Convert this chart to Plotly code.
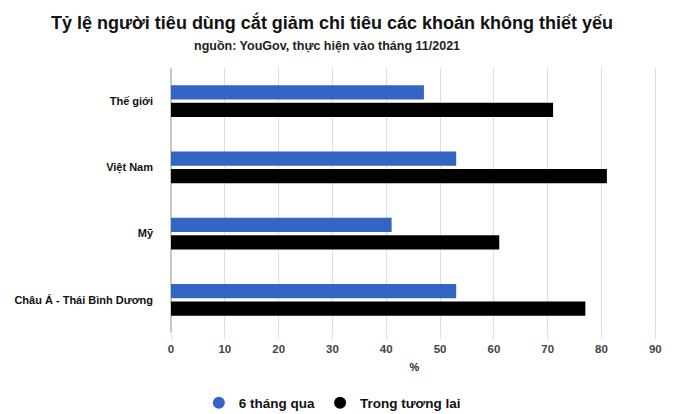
import plotly.graph_objects as go

categories = ["Thế giới", "Việt Nam", "Mỹ", "Châu Á - Thái Bình Dương"]
past_6_months = [47, 53, 41, 53]
future = [71, 81, 61, 77]
series_names = ["6 tháng qua", "Trong tương lai"]
colors = ["#3565c4", "#000000"]
x_ticks = [0, 10, 20, 30, 40, 50, 60, 70, 80, 90]

W, H = 674, 414
ML, MR, MT, MB = 171, 14, 68, 81
PW, PH = W - ML - MR, H - MT - MB

fig = go.Figure()
for name, vals, col in zip(series_names, [past_6_months, future], colors):
    fig.add_trace(go.Bar(y=categories, x=vals, orientation="h", name=name,
                         marker=dict(color=col, line=dict(width=0)), showlegend=False))
    fig.add_trace(go.Scatter(x=[None], y=[None], mode="markers", name=name,
                             marker=dict(color=col, size=12, symbol="circle")))

fig.update_layout(
    width=W, height=H,
    margin=dict(l=ML, r=MR, t=MT, b=MB),
    paper_bgcolor="white", plot_bgcolor="white",
    font=dict(family="Liberation Sans, Arial, sans-serif", color="#222"),
    title=dict(
        text="<b>Tỷ lệ người tiêu dùng cắt giảm chi tiêu các khoản không thiết yếu</b>",
        x=332 / W, xanchor="center", y=(H - 23) / H, yanchor="middle",
        font=dict(size=18, color="#111"),
    ),
    annotations=[dict(
        text="<b>nguồn: YouGov, thực hiện vào tháng 11/2021</b>",
        xref="paper", yref="paper", x=(328 - ML) / PW, xanchor="center",
        y=(H - MB - 46) / PH, yanchor="middle", showarrow=False,
        font=dict(size=12.5, color="#222"),
    )],
    barmode="group", bargap=0.47, bargroupgap=0.18,
    xaxis=dict(range=[0, 90.5], tickvals=x_ticks, showgrid=True, gridcolor="#dedede",
               zeroline=True, zerolinecolor="#c8c8c8", ticks="outside", ticklen=5,
               tickcolor="#dedede",
               tickfont=dict(size=11.5, color="#444", weight="bold"),
               title=dict(text="<b>%</b>", font=dict(size=11, color="#222"), standoff=9),
               showline=False, fixedrange=True),
    yaxis=dict(autorange="reversed", tickfont=dict(size=11, color="#111", weight="bold"),
               ticks="", ticklabelstandoff=17, showgrid=False, fixedrange=True),
    legend=dict(orientation="h", x=(333 - ML) / PW, xanchor="center", yref="container",
                y=(H - 403) / H, yanchor="middle",
                font=dict(size=13.5, color="#111", weight="bold"), itemwidth=30),
)

fig.write_html("out.html")
